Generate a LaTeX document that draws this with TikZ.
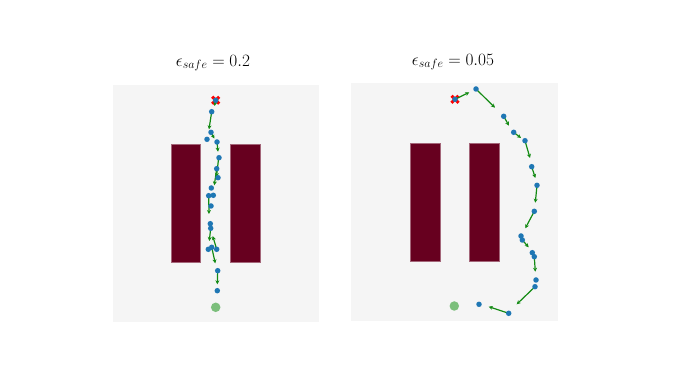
\documentclass[tikz,border=0pt]{standalone}
\usepackage{amsmath, amssymb}
\usepackage{xcolor}
\usetikzlibrary{arrows.meta, calc}

\definecolor{panelbg}{HTML}{F5F5F5}
\definecolor{wallred}{HTML}{67001F}
\definecolor{dotblue}{HTML}{1F77B4}
\definecolor{velgreen}{HTML}{138A13}
\definecolor{goalgreen}{HTML}{7CBF7C}

\tikzset{
  panel/.style={fill=panelbg, draw=none},
  wall/.style={fill=wallred, draw=wallred!60!white, line width=0.5pt},
  vel/.style={draw=velgreen, line width=1.2pt, -{Stealth[length=4pt,width=4pt]}},
  dot/.style={circle, fill=dotblue, inner sep=0pt, minimum size=5.5pt},
  goal/.style={circle, fill=goalgreen, inner sep=0pt, minimum size=9.5pt},
  title/.style={font=\fontsize{17}{19}\selectfont}
}
\newcommand{\startmark}[1]{%
  \draw[red, line width=3pt] ($(#1)+(-3.5,-3.5)$) -- ($(#1)+(3.5,3.5)$);
  \draw[red, line width=3pt] ($(#1)+(-3.5,3.5)$) -- ($(#1)+(3.5,-3.5)$);}

\begin{document}
\begin{tikzpicture}[x=1pt, y=-1pt]
  \useasboundingbox[fill=white] (0,0) rectangle (673,379);

  % left panel: eps = 0.2
  \node[title] (tleft) at (213,63) {$\epsilon_{safe} = 0.2$};
  \fill[panel] (113,85) rectangle (319,322);
  \draw[wall] (171,144) rectangle (200.5,262);
  \draw[wall] (230.5,144) rectangle (260,262);
  \coordinate (sleft) at (215.7,100.3);
  \startmark{sleft}
  \foreach \a/\b/\c/\d in {211.7/111.7/209/129.3, 211/132.3/214.3/138.5,
      217/142/218/151.7, 218.7/157.3/216.5/177, 216.7/168.7/214.3/185.3,
      208.7/195.7/209/214, 210.7/228.3/209.3/241, 216.7/249.3/212.7/236,
      211.7/247.3/215.3/263.3, 217.7/270.7/217.3/284.3, 215.7/100.3/214.5/106}
    \draw[vel] (\a,\b) -- (\c,\d);
  \foreach \p [count=\i] in {(215.7,100.3), (211.7,111.7), (211,132.3), (207,139.3),
      (217,142), (219,157.7), (216.7,168.7), (218,177.7), (211.3,188),
      (208.7,195.7), (213.3,195.3), (211,206), (210.3,223.7), (210.7,228.3),
      (208.3,249.3), (211.7,247.3), (216.7,249.3), (217.7,270.7), (217.3,290.7)}
    \node[dot] (l\i) at \p {};
  \node[goal] (gleft) at (215.7,307.3) {};

  % right panel: eps = 0.05
  \node[title] (tright) at (453,62) {$\epsilon_{safe} = 0.05$};
  \fill[panel] (351,83) rectangle (558,321);
  \draw[wall] (410,143) rectangle (440,261);
  \draw[wall] (469.5,143) rectangle (499,261);
  \coordinate (sright) at (455,99.3);
  \startmark{sright}
  \foreach \a/\b/\c/\d in {455/99.3/469.3/92.3, 476/89/495/107.7,
      503.7/116.3/509/125.7, 513.7/132.3/521/138, 525/140.7/530/158,
      531.7/166.7/535.3/178, 537/185.3/535.3/202.7, 534.3/211.3/525.3/228.3,
      522.3/240/528.7/247.3, 534.3/256.7/535.3/271.7, 535/286.7/516.7/304.3,
      508.7/313.3/488.7/306.7}
    \draw[vel] (\a,\b) -- (\c,\d);
  \foreach \p [count=\i] in {(455,99.3), (476,89), (503.7,116.3), (513.7,132.3),
      (525,140.7), (531.7,166.7), (537,185.3), (534.3,211.3), (521,236),
      (522.3,240), (532.3,252.7), (534.3,256.7), (536,280), (535,286.7),
      (508.7,313.3), (479,304.3)}
    \node[dot] (r\i) at \p {};
  \node[goal] (gright) at (454.3,306) {};
\end{tikzpicture}
\end{document}
